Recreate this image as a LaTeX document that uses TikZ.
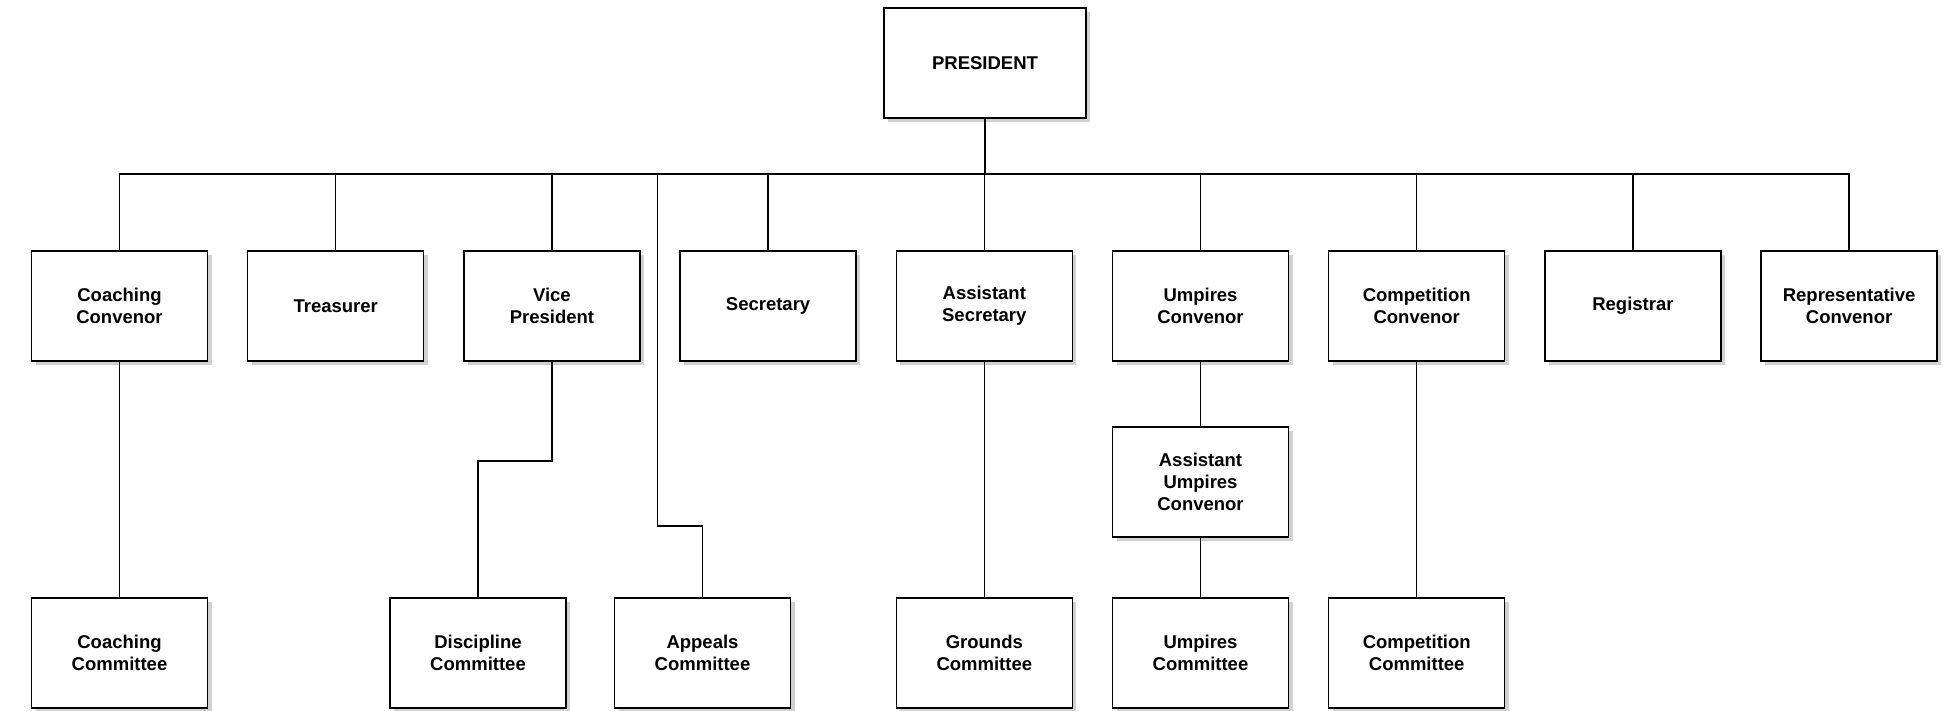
\documentclass[tikz,border=0pt]{standalone}
\usepackage{fontspec}
\setmainfont{Liberation Sans}
\usetikzlibrary{shadows}
\begin{document}
\begin{tikzpicture}[x=1pt,y=-1pt,
  box/.style={draw=black, line width=1.5pt, fill=white, minimum width=176pt, minimum height=110pt,
    inner sep=0pt, align=center, font=\bfseries\fontsize{18.5}{22}\selectfont,
    drop shadow={shadow xshift=4pt, shadow yshift=-4pt, opacity=0.3, fill=black!60}},
  link/.style={draw=black, line width=1.5pt}]
\useasboundingbox (0,0) rectangle (1948,710);
\node[box, minimum width=202pt] (pres) at (985,63) {PRESIDENT};
\node[box] (cc)  at (119.5,306) {Coaching\\Convenor};
\node[box] (tre) at (335.7,306) {Treasurer};
\node[box] (vp)  at (551.9,306) {Vice\\President};
\node[box] (sec) at (768.1,306) {Secretary};
\node[box] (as)  at (984.3,306) {Assistant\\Secretary};
\node[box] (uc)  at (1200.5,306) {Umpires\\Convenor};
\node[box] (cpc) at (1416.7,306) {Competition\\Convenor};
\node[box] (reg) at (1632.9,306) {Registrar};
\node[box] (rc)  at (1849.1,306) {Representative\\Convenor};
\node[box] (auc) at (1200.5,482) {Assistant\\Umpires\\Convenor};
\node[box] (ccm) at (119.5,653) {Coaching\\Committee};
\node[box] (dis) at (478,653) {Discipline\\Committee};
\node[box] (app) at (702.5,653) {Appeals\\Committee};
\node[box] (grd) at (984.3,653) {Grounds\\Committee};
\node[box] (ucm) at (1200.5,653) {Umpires\\Committee};
\node[box] (cpm) at (1416.7,653) {Competition\\Committee};
\coordinate (bus) at (0,174);
\coordinate (apbus) at (657.5,174);
\coordinate (apbend) at (657.5,526);
\begin{scope}[on background layer/.try]
\end{scope}
\path[link] (pres.south) -- (pres.south |- bus);
\path[link] (cc.north) -- (cc.north |- bus) -- (rc.north |- bus) -- (rc.north);
\foreach \n in {tre,vp,sec,as,uc,cpc,reg}
  \path[link] (\n.north) -- (\n.north |- bus);
\path[link] (cc.south) -- (ccm.north);
\path[link] (vp.south) -- ++(0,99) -| (dis.north);
\path[link] (apbus) -- (apbend) -| (app.north);
\path[link] (as.south) -- (grd.north);
\path[link] (uc.south) -- (auc.north);
\path[link] (auc.south) -- (ucm.north);
\path[link] (cpc.south) -- (cpm.north);
\end{tikzpicture}
\end{document}
